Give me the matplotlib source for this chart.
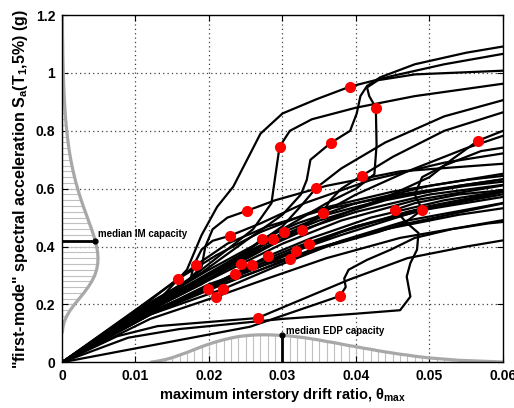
import matplotlib
matplotlib.use('Agg')
import matplotlib.pyplot as plt

plt.rcParams['font.family'] = ['Liberation Sans', 'DejaVu Sans']
plt.rcParams['font.weight'] = 'bold'
plt.rcParams['mathtext.fontset'] = 'custom'
plt.rcParams['mathtext.rm'] = 'Liberation Sans:bold'
plt.rcParams['mathtext.it'] = 'Liberation Sans:bold'
plt.rcParams['mathtext.bf'] = 'Liberation Sans:bold'

# IDA curves, one per record: (drift, Sa) points
ida_curves = [
    [(0, 0), (.0105, .19), (.0158, .288), (.021, .37), (.027, .45), (.035, .53), (.045, .59), (.055, .63), (.062, .65)],
    [(0, 0), (.0115, .205), (.0183, .337), (.0225, .41), (.028, .47), (.036, .53), (.046, .58), (.062, .64)],
    [(0, 0), (.012, .175), (.0198, .253), (.026, .31), (.034, .39), (.044, .46), (.054, .51), (.062, .54)],
    [(0, 0), (.012, .15), (.0209, .226), (.028, .29), (.036, .36), (.046, .43), (.062, .50)],
    [(0, 0), (.012, .165), (.0219, .253), (.029, .33), (.037, .41), (.047, .48), (.062, .56)],
    [(0, 0), (.011, .19), (.0155, .25), (.0175, .29), (.018, .34), (.019, .39), (.0205, .42), (.0228, .437),
     (.027, .48), (.033, .55), (.042, .63), (.052, .69), (.062, .73)],
    [(0, 0), (.012, .175), (.018, .24), (.0236, .305), (.030, .37), (.038, .44), (.048, .52), (.062, .60)],
    [(0, 0), (.012, .18), (.0185, .265), (.0244, .34), (.030, .41), (.038, .49), (.048, .56), (.062, .62)],
    [(0, 0), (.0115, .20), (.017, .28), (.019, .33), (.0195, .40), (.0205, .46), (.0225, .50), (.0252, .524),
     (.029, .56), (.036, .61), (.046, .66), (.062, .69)],
    [(0, 0), (.012, .165), (.019, .25), (.0259, .337), (.032, .40), (.040, .47), (.050, .53), (.062, .58)],
    [(0, 0), (.0075, .09), (.013, .125), (.0266, .153), (.031, .20), (.039, .285), (.047, .36), (.055, .40), (.062, .43)],
    [(0, 0), (.012, .19), (.018, .27), (.023, .34), (.0272, .426), (.032, .48), (.040, .55), (.050, .61), (.062, .66)],
    [(0, 0), (.012, .17), (.020, .26), (.028, .367), (.034, .43), (.042, .50), (.052, .56), (.062, .60)],
    [(0, 0), (.0115, .19), (.018, .28), (.0235, .36), (.0287, .426), (.035, .49), (.044, .56), (.054, .61), (.062, .64)],
    [(0, 0), (.012, .20), (.018, .30), (.022, .38), (.026, .46), (.0285, .55), (.029, .64), (.0296, .745),
     (.031, .80), (.034, .84), (.040, .88), (.048, .92), (.062, .97)],
    [(0, 0), (.012, .18), (.019, .27), (.025, .37), (.0302, .451), (.036, .51), (.045, .57), (.055, .61), (.062, .63)],
    [(0, 0), (.012, .165), (.020, .25), (.026, .31), (.031, .357), (.038, .42), (.047, .49), (.062, .56)],
    [(0, 0), (.012, .17), (.020, .26), (.026, .32), (.0319, .385), (.038, .45), (.047, .52), (.062, .59)],
    [(0, 0), (.0115, .185), (.019, .29), (.026, .38), (.0327, .458), (.040, .52), (.050, .58), (.062, .62)],
    [(0, 0), (.012, .17), (.020, .26), (.027, .34), (.0336, .409), (.040, .47), (.050, .54), (.062, .60)],
    [(0, 0), (.012, .19), (.020, .30), (.026, .40), (.030, .47), (.0325, .54), (.0346, .603), (.038, .67),
     (.044, .76), (.052, .85), (.062, .92)],
    [(0, 0), (.012, .185), (.020, .29), (.026, .37), (.031, .44), (.0355, .517), (.040, .58), (.047, .66),
     (.055, .74), (.062, .80)],
    [(0, 0), (.012, .20), (.019, .31), (.025, .42), (.030, .51), (.0325, .58), (.0333, .63), (.0338, .70),
     (.0366, .759), (.0392, .80), (.0401, .86), (.0406, .92), (.0415, .955), (.0433, .985), (.048, 1.03),
     (.055, 1.07), (.062, 1.10)],
    [(0, 0), (.0256, .123), (.0378, .229), (.0386, .26), (.0384, .29), (.039, .32), (.0415, .354), (.0447, .389),
     (.048, .43), (.053, .46), (.058, .48), (.062, .49)],
    [(0, 0), (.013, .21), (.017, .32), (.019, .44), (.0211, .537), (.0233, .607), (.027, .79), (.030, .86),
     (.0347, .91), (.0392, .953), (.045, .99), (.052, 1.03), (.062, 1.075)],
    [(0, 0), (.012, .19), (.020, .30), (.027, .40), (.032, .46), (.035, .50), (.0365, .56), (.038, .60),
     (.0408, .645), (.045, .71), (.052, .80), (.062, .88)],
    [(0, 0), (.012, .20), (.020, .32), (.028, .43), (.036, .55), (.040, .60), (.0425, .65), (.0428, .75),
     (.0427, .88), (.0418, .92), (.0415, .95), (.043, .975), (.048, .995), (.062, 1.01)],
    [(0, 0), (.009, .085), (.016, .115), (.030, .15), (.040, .168), (.046, .18), (.0474, .227), (.0469, .296),
     (.0474, .343), (.0483, .389), (.0485, .447), (.0469, .482), (.0453, .527), (.048, .55), (.054, .58),
     (.062, .60)],
    [(0, 0), (.012, .17), (.020, .27), (.028, .34), (.036, .40), (.043, .45), (.0465, .48), (.049, .527),
     (.048, .58), (.049, .64), (.052, .68), (.057, .73), (.062, .75)],
    [(0, 0), (.012, .19), (.020, .30), (.028, .40), (.036, .49), (.044, .57), (.050, .64), (.053, .70),
     (.0566, .766), (.060, .80), (.062, .82)],
]

# red markers (one on each curve)
dot_drift = [.0158, .0183, .0198, .0209, .0219, .0228, .0236, .0244, .0252, .0259,
             .0266, .0272, .0280, .0287, .0296, .0302, .0310, .0319, .0327, .0336,
             .0346, .0355, .0366, .0378, .0392, .0408, .0427, .0453, .0490, .0566]
dot_sa = [.288, .337, .253, .226, .253, .437, .305, .340, .524, .337,
          .153, .426, .367, .426, .745, .451, .357, .385, .458, .409,
          .603, .517, .759, .229, .953, .645, .880, .527, .527, .766]

# IM capacity distribution, drawn sideways along the Sa axis
im_sa = [.10, .12, .14, .16, .18, .20, .22, .24, .26, .28, .30, .32, .34, .36, .38, .40, .42, .44, .46, .48,
         .50, .52, .54, .56, .58, .60, .62, .64, .66, .68, .70, .72, .74, .76, .78, .80, .82, .84, .86, .88,
         .90, .92, .94, .96, .98, 1.00, 1.02, 1.04, 1.06, 1.08, 1.10, 1.12, 1.14, 1.16, 1.18, 1.20]
im_pdf = [.00003, .00012, .00031, .00065, .00112, .00170, .00234, .00298, .00356, .00406, .00445, .00471,
          .00486, .00490, .00485, .00471, .00452, .00429, .00403, .00374, .00346, .00317, .00289, .00262,
          .00237, .00213, .00191, .00171, .00152, .00135, .00120, .00106, .00094, .00083, .00074, .00065,
          .00057, .00050, .00044, .00039, .00034, .00030, .00027, .00023, .00021, .00018, .00016, .00014,
          .00012, .00011, .00010, .00008, .00007, .00007, .00006, .00005]
im_median = 0.42
im_median_pdf = .00452

# EDP capacity distribution along the drift axis
edp_drift = [.012, .013, .014, .015, .016, .017, .018, .019, .020, .021, .022, .023, .024, .025, .026, .027,
             .028, .029, .030, .031, .032, .033, .034, .035, .036, .037, .038, .039, .040, .041, .042, .043,
             .044, .045, .046, .047, .048, .049, .050, .051, .052, .053, .054, .055, .056, .057, .058, .059, .060]
edp_pdf = [.000, .004, .009, .016, .025, .034, .044, .054, .063, .071, .078, .084, .089, .092, .094, .095,
           .095, .094, .093, .091, .088, .085, .081, .077, .072, .068, .063, .058, .054, .049, .045, .040,
           .036, .032, .028, .025, .021, .018, .015, .013, .011, .009, .007, .006, .005, .004, .003, .002, .001]
edp_median = 0.03
edp_median_pdf = .093

x_ticks = [0, 0.01, 0.02, 0.03, 0.04, 0.05, 0.06]
x_ticklabels = ['0', '0.01', '0.02', '0.03', '0.04', '0.05', '0.06']
y_ticks = [0, 0.2, 0.4, 0.6, 0.8, 1.0, 1.2]
y_ticklabels = ['0', '0.2', '0.4', '0.6', '0.8', '1', '1.2']

fig = plt.figure(figsize=(5.14, 4.08), dpi=100)
ax = fig.add_axes([0.1206, 0.112, 0.858, 0.851])

# dotted grid, drawn by hand so it sits under everything
for xt in x_ticks[1:-1]:
    ax.axvline(xt, color='#404040', lw=0.9, linestyle=(0, (1, 2.5)), zorder=0.5)
for yt in y_ticks[1:-1]:
    ax.axhline(yt, color='#404040', lw=0.9, linestyle=(0, (1, 2.5)), zorder=0.5)

# hatching of the two distributions
ax.hlines(im_sa, 0, im_pdf, color='#c0c0c0', lw=0.8, zorder=1)
ax.vlines(edp_drift, 0, edp_pdf, color='#c0c0c0', lw=0.8, zorder=1)
ax.plot(im_pdf, im_sa, color='#a8a8a8', lw=2.3, zorder=2, solid_capstyle='butt')
ax.plot(edp_drift, edp_pdf, color='#a8a8a8', lw=2.3, zorder=2, solid_capstyle='butt')

for curve in ida_curves:
    xs = [p[0] for p in curve]
    ys = [p[1] for p in curve]
    ax.plot(xs, ys, color='black', lw=1.6, zorder=3, solid_joinstyle='round')

ax.plot(dot_drift, dot_sa, 'o', color='red', ms=7, mec='red', zorder=4)

# medians
ax.plot([0, im_median_pdf], [im_median, im_median], color='black', lw=2, zorder=5)
ax.plot([im_median_pdf], [im_median], 'o', color='black', ms=3.5, zorder=5)
ax.text(im_median_pdf + 0.0004, im_median + 0.022, 'median IM capacity', fontsize=7, fontweight='bold',
        va='center', ha='left', zorder=6)
ax.plot([edp_median, edp_median], [0, edp_median_pdf], color='black', lw=2, zorder=5)
ax.plot([edp_median], [edp_median_pdf], 'o', color='black', ms=3.5, zorder=5)
ax.text(edp_median + 0.0005, edp_median_pdf + 0.015, 'median EDP capacity', fontsize=7, fontweight='bold',
        va='center', ha='left', zorder=6)

ax.set_xlim(0, 0.06)
ax.set_ylim(0, 1.2)
ax.set_xticks(x_ticks)
ax.set_xticklabels(x_ticklabels)
ax.set_yticks(y_ticks)
ax.set_yticklabels(y_ticklabels)
ax.tick_params(direction='in', length=4, width=0.8, top=True, right=True, labelsize=10, pad=5)
for lab in ax.get_xticklabels() + ax.get_yticklabels():
    lab.set_fontweight('bold')
for sp in ax.spines.values():
    sp.set_linewidth(1.0)
    sp.set_zorder(7)

ax.set_xlabel(r'maximum interstory drift ratio, θ$_{\mathrm{max}}$', fontsize=10.5, fontweight='bold', labelpad=2)
ax.set_ylabel(r'"first-mode" spectral acceleration S$_{\mathrm{a}}$(T$_{\mathrm{1}}$,5%) (g)', fontsize=11.5,
              fontweight='bold', labelpad=4)

fig.savefig('out.png', dpi=100)
